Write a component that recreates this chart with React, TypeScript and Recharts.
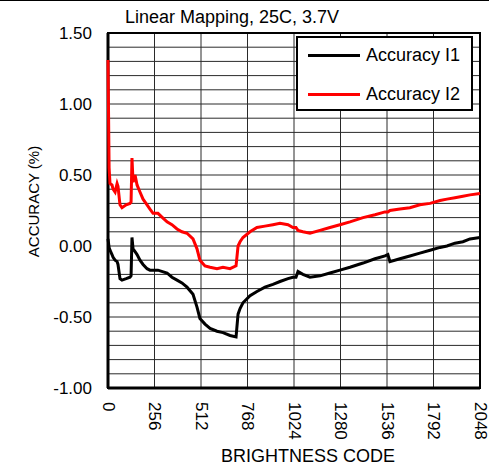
import {
  LineChart,
  Line,
  XAxis,
  YAxis,
  CartesianGrid,
  Legend,
  ReferenceArea,
  Label,
} from "recharts";

// brightness codes where the curves were sampled
const codes = [
  0, 6, 11, 22, 28, 39, 50, 55, 66, 77, 100, 121, 127, 132, 138, 149, 160, 176,
  193, 215, 231, 248, 275, 300, 325, 352, 380, 407, 435, 468, 490, 506, 534, 562,
  600, 633, 672, 705, 716, 727, 743, 782, 820, 864, 908, 947, 991, 1018, 1035,
  1046, 1073, 1112, 1167, 1222, 1277, 1332, 1404, 1470, 1525, 1541, 1552, 1607,
  1662, 1717, 1773, 1828, 1866, 1910, 1954, 1993, 2048,
];

const accuracyI1 = [
  0.05, -0.01, -0.03, -0.06, -0.08, -0.1, -0.11, -0.13, -0.23, -0.24, -0.23,
  -0.22, -0.21, 0.06, -0.02, -0.04, -0.06, -0.1, -0.13, -0.16, -0.17, -0.17,
  -0.17, -0.18, -0.19, -0.22, -0.24, -0.26, -0.29, -0.34, -0.43, -0.51, -0.55,
  -0.58, -0.6, -0.61, -0.63, -0.64, -0.48, -0.44, -0.4, -0.35, -0.32, -0.29,
  -0.27, -0.25, -0.23, -0.22, -0.22, -0.18, -0.2, -0.22, -0.21, -0.19, -0.17,
  -0.15, -0.12, -0.09, -0.07, -0.06, -0.11, -0.09, -0.07, -0.05, -0.03, -0.01,
  0.0, 0.02, 0.03, 0.05, 0.06,
];

const accuracyI2 = [
  1.31, 0.55, 0.44, 0.43, 0.4, 0.38, 0.44, 0.42, 0.29, 0.27, 0.29, 0.3, 0.31,
  0.62, 0.45, 0.5, 0.43, 0.38, 0.33, 0.29, 0.26, 0.23, 0.23, 0.2, 0.17, 0.15,
  0.12, 0.1, 0.09, 0.05, -0.02, -0.1, -0.14, -0.15, -0.16, -0.15, -0.16, -0.14,
  0.0, 0.03, 0.06, 0.1, 0.13, 0.14, 0.15, 0.16, 0.15, 0.13, 0.13, 0.11, 0.1,
  0.09, 0.11, 0.13, 0.15, 0.17, 0.2, 0.22, 0.24, 0.24, 0.25, 0.26, 0.27, 0.29,
  0.3, 0.32, 0.33, 0.34, 0.35, 0.36, 0.37,
];

const xTicks = [0, 256, 512, 768, 1024, 1280, 1536, 1792, 2048];
const yTicks = [
  -1, -0.9, -0.8, -0.7, -0.6, -0.5, -0.4, -0.3, -0.2, -0.1, 0, 0.1, 0.2, 0.3,
  0.4, 0.5, 0.6, 0.7, 0.8, 0.9, 1, 1.1, 1.2, 1.3, 1.4, 1.5,
];
const yLabelled = [-1, -0.5, 0, 0.5, 1, 1.5];

const data = codes.map((code, i) => ({
  code,
  i1: accuracyI1[i],
  i2: accuracyI2[i],
}));

const FONT = "'Liberation Sans', Arial, sans-serif";

const XTick = (props: any) => {
  const { x, y, payload } = props;
  return (
    <text
      x={x}
      y={y}
      transform={`rotate(90, ${x}, ${y})`}
      textAnchor="start"
      dominantBaseline="central"
      fontSize={17}
      fill="#000"
      fontFamily={FONT}
    >
      {payload.value}
    </text>
  );
};

const LegendBox = (props: any) => {
  const items = props.payload || [];
  return (
    <div
      style={{
        position: "relative",
        width: 177,
        height: 75,
        border: "2px solid #000",
        boxSizing: "border-box",
        background: "#fff",
        fontFamily: FONT,
      }}
    >
      {items.map((item: any, i: number) => (
        <div
          key={item.value}
          style={{
            position: "absolute",
            left: 10,
            top: 6 + i * 39,
            height: 22,
            display: "flex",
            alignItems: "center",
          }}
        >
          <div style={{ width: 52, height: 3, background: item.color }} />
          <span style={{ marginLeft: 6, fontSize: 18, color: "#000" }}>
            {item.value}
          </span>
        </div>
      ))}
    </div>
  );
};

export default function App() {
  return (
    <div
      style={{
        position: "absolute",
        left: 0,
        top: 0,
        width: 489,
        height: 466,
        background: "#fff",
        fontFamily: FONT,
      }}
    >
      <div
        style={{
          position: "absolute",
          left: 0,
          top: 0,
          width: 489,
          height: 1,
          background: "#000",
        }}
      />
      <div
        style={{
          position: "absolute",
          left: 0,
          top: 7,
          width: 464,
          textAlign: "center",
          fontSize: 18,
          lineHeight: "20px",
          color: "#000",
          zIndex: 2,
        }}
      >
        Linear Mapping, 25C, 3.7V
      </div>
      <LineChart
        width={489}
        height={466}
        data={data}
        margin={{ top: 33, right: 9, left: 0, bottom: 18 }}
      >
        <CartesianGrid stroke="#2a2a2a" strokeWidth={1} />
        <XAxis
          dataKey="code"
          type="number"
          domain={[0, 2048]}
          ticks={xTicks}
          interval={0}
          height={60}
          tickSize={6}
          tickMargin={8}
          tickLine={false}
          axisLine={{ stroke: "#000", strokeWidth: 3 }}
          tick={<XTick />}
        >
          <Label
            content={({ viewBox }: any) => (
              <text
                x={viewBox.x + viewBox.width / 2 + 14}
                y={viewBox.y + 74}
                textAnchor="middle"
                fontSize={18}
                fill="#000"
                fontFamily={FONT}
              >
                BRIGHTNESS CODE
              </text>
            )}
          />
        </XAxis>
        <YAxis
          type="number"
          domain={[-1, 1.5]}
          ticks={yTicks}
          interval={0}
          width={108}
          tickSize={6}
          tickMargin={10}
          tickLine={false}
          axisLine={{ stroke: "#000", strokeWidth: 3 }}
          tick={{ fill: "#000", fontSize: 17, fontFamily: FONT }}
          tickFormatter={(v: number) =>
            yLabelled.some((l) => Math.abs(l - v) < 1e-6) ? v.toFixed(2) : ""
          }
        >
          <Label
            content={({ viewBox }: any) => {
              const cx = 39;
              const cy = viewBox.y + viewBox.height / 2 - 9;
              return (
                <text
                  x={cx}
                  y={cy}
                  transform={`rotate(-90, ${cx}, ${cy})`}
                  textAnchor="middle"
                  fontSize={15}
                  fill="#000"
                  fontFamily={FONT}
                >
                  ACCURACY (%)
                </text>
              );
            }}
          />
        </YAxis>
        <ReferenceArea
          x1={0}
          x2={2048}
          y1={-1}
          y2={1.5}
          fill="none"
          stroke="#000"
          strokeWidth={2}
          ifOverflow="visible"
        />
        <Legend
          layout="vertical"
          align="center"
          verticalAlign="middle"
          wrapperStyle={{ left: 296, top: 36, width: 177, height: 75 }}
          content={<LegendBox />}
        />
        <Line
          type="linear"
          dataKey="i1"
          name="Accuracy I1"
          stroke="#000"
          strokeWidth={3}
          dot={false}
          isAnimationActive={false}
          {...({ zIndex: 1500 } as any)}
        />
        <Line
          type="linear"
          dataKey="i2"
          name="Accuracy I2"
          stroke="#ff0000"
          strokeWidth={3}
          dot={false}
          isAnimationActive={false}
          {...({ zIndex: 1500 } as any)}
        />
      </LineChart>
    </div>
  );
}
